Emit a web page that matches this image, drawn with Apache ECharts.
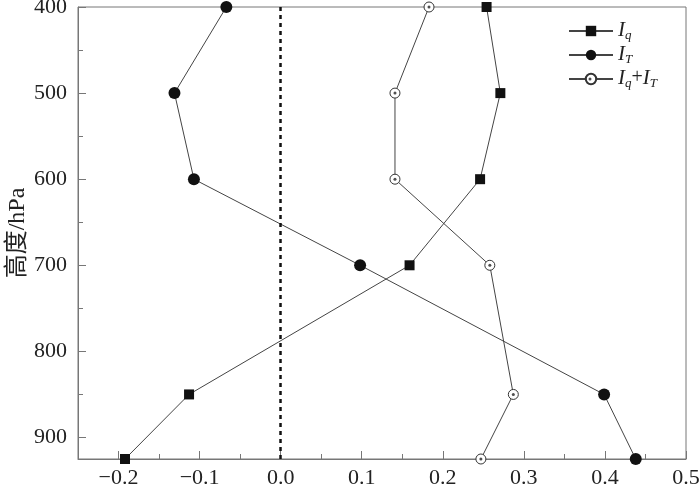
<!DOCTYPE html>
<html lang="zh-CN">
<head>
<meta charset="utf-8">
<title>高度廓线</title>
<script src="https://cdn.jsdelivr.net/npm/echarts@6/dist/echarts.min.js"></script>
<style>
  body { margin: 0; padding: 0; background: #fff; }
  #main { width: 700px; height: 488px; }
</style>
</head>
<body>
<div id="main"></div>
<script type="text/javascript">
    // 气压层 (hPa)
    var levels = [400, 500, 600, 700, 850, 925];
    // 各项数值
    var iq = [0.254, 0.271, 0.246, 0.159, -0.113, -0.192];
    var it = [-0.067, -0.131, -0.107, 0.098, 0.399, 0.438];
    var iqit = [0.183, 0.141, 0.141, 0.258, 0.287, 0.247];

    // 刻度
    var xMajor = [-0.2, -0.1, 0.0, 0.1, 0.2, 0.3, 0.4, 0.5];
    var xMinor = [-0.15, -0.05, 0.05, 0.15, 0.25, 0.35, 0.45];
    var yMajor = [400, 500, 600, 700, 800, 900];
    var yMinor = [450, 550, 650, 750, 850];

    function pairs(vals) {
        var out = [];
        for (var i = 0; i < vals.length; i++) out.push([vals[i], levels[i]]);
        return out;
    }

    var serif = "'Liberation Serif', 'DejaVu Serif', serif";
    var axisColor = '#777';
    var lineColor = '#444';

    var myChart = echarts.init(document.getElementById('main'));

    var richSub = {
        I: { fontFamily: serif, fontStyle: 'italic', fontSize: 21, lineHeight: 22, verticalAlign: 'top', color: '#222' },
        s: { fontFamily: serif, fontStyle: 'italic', fontSize: 13, lineHeight: 13, verticalAlign: 'bottom', color: '#222' },
        p: { fontFamily: serif, fontSize: 20, lineHeight: 22, verticalAlign: 'top', color: '#222' }
    };
    var legendText = {
        'Iq': '{I|I}{s|q}',
        'IT': '{I|I}{s|T}',
        'IqIT': '{I|I}{s|q}{p|+}{I|I}{s|T}'
    };

    var option = {
        animation: false,
        grid: {
            left: 78, right: 14, top: 7, bottom: 29,
            outerBoundsMode: 'none',
            containLabel: false,
            show: true, borderColor: axisColor, borderWidth: 1
        },
        legend: [{
            orient: 'vertical',
            left: 563,
            top: 15,
            itemWidth: 44,
            itemHeight: 13,
            itemGap: 2,
            data: ['Iq', 'IT', 'IqIT'],
            formatter: function (name) { return legendText[name]; },
            textStyle: { rich: richSub }
        }, {
            orient: 'vertical',
            left: 588.5,
            top: 77.5,
            padding: 0,
            itemWidth: 3,
            itemHeight: 3,
            data: [{ name: 'IqITdot', icon: 'circle' }],
            formatter: function () { return ''; },
            textStyle: { fontSize: 3, lineHeight: 3 },
            selectedMode: false
        }],
        xAxis: [{
            type: 'value',
            min: -0.25,
            max: 0.5,
            splitLine: { show: false },
            axisLine: { onZero: false, lineStyle: { color: axisColor } },
            axisTick: { inside: true, length: 8, customValues: xMajor, lineStyle: { color: axisColor } },
            axisLabel: {
                customValues: xMajor,
                margin: 8,
                fontFamily: serif,
                fontSize: 22,
                color: '#222',
                formatter: function (v) { return (v < 0 ? '\u2212' : '') + Math.abs(v).toFixed(1); }
            }
        }, {
            type: 'value',
            min: -0.25,
            max: 0.5,
            position: 'bottom',
            splitLine: { show: false },
            axisLine: { show: false, onZero: false },
            axisLabel: { show: false },
            axisTick: { inside: true, length: 5, customValues: xMinor, lineStyle: { color: axisColor } }
        }],
        yAxis: [{
            type: 'value',
            inverse: true,
            min: 400,
            max: 925,
            name: '高度/hPa',
            nameLocation: 'middle',
            nameGap: 48,
            nameMoveOverlap: false,
            nameTextStyle: { fontFamily: "'Liberation Serif', 'Noto Sans CJK SC', serif", fontSize: 24, color: '#222' },
            splitLine: { show: false },
            axisLine: { onZero: false, lineStyle: { color: axisColor } },
            axisTick: { inside: true, length: 8, customValues: yMajor, lineStyle: { color: axisColor } },
            axisLabel: { customValues: yMajor, margin: 11, fontFamily: serif, fontSize: 22, color: '#222' }
        }, {
            type: 'value',
            inverse: true,
            min: 400,
            max: 925,
            position: 'left',
            offset: 0,
            splitLine: { show: false },
            axisLine: { show: false, onZero: false },
            axisLabel: { show: false },
            axisTick: { inside: true, length: 5, customValues: yMinor, lineStyle: { color: axisColor } }
        }],
        series: [{
            name: 'Iq',
            type: 'line',
            data: pairs(iq),
            clip: false,
            symbol: 'rect',
            symbolSize: 10,
            itemStyle: { color: '#111' },
            lineStyle: { color: lineColor, width: 1 },
            z: 3
        }, {
            name: 'IT',
            type: 'line',
            data: pairs(it),
            clip: false,
            symbol: 'circle',
            symbolSize: 12,
            itemStyle: { color: '#111' },
            lineStyle: { color: lineColor, width: 1 },
            z: 3,
            markLine: {
                silent: true,
                symbol: 'none',
                label: { show: false },
                lineStyle: { color: '#111', type: [4, 4], width: 2.5 },
                data: [{ xAxis: 0 }]
            }
        }, {
            name: 'IqIT',
            type: 'line',
            data: pairs(iqit),
            clip: false,
            symbol: 'circle',
            symbolSize: 10,
            showAllSymbol: true,
            itemStyle: { color: '#fff', borderColor: '#333', borderWidth: 1 },
            lineStyle: { color: lineColor, width: 1 },
            z: 3
        }, {
            name: 'IqITdot',
            type: 'scatter',
            data: pairs(iqit),
            clip: false,
            symbol: 'circle',
            symbolSize: 3,
            itemStyle: { color: '#222' },
            z: 4
        }]
    };

    myChart.setOption(option);
</script>
</body>
</html>
